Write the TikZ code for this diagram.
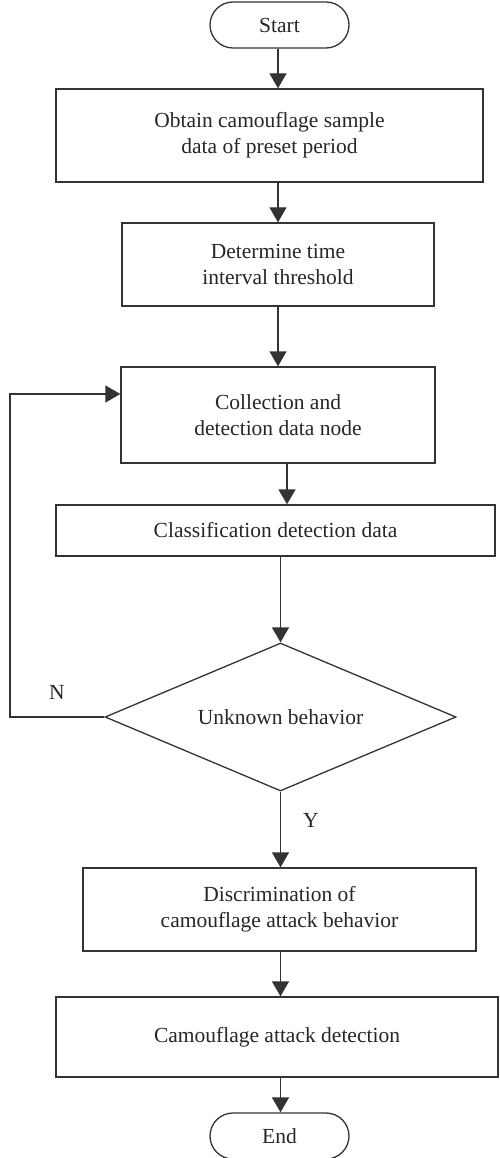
\documentclass[tikz,border=0pt]{standalone}
\usepackage{fontspec}
\setmainfont{Liberation Serif}
\usetikzlibrary{arrows.meta,shapes.geometric,shapes.misc}
\begin{document}
\begin{tikzpicture}[x=1pt,y=1pt,
  every node/.style={font=\fontsize{21.5}{26}\selectfont, text=black!85},
  procbox/.style={draw=black!80, line width=1.3pt, rectangle, align=center, inner sep=0pt},
  termbox/.style={draw=black!80, line width=1.3pt, rounded rectangle, minimum width=139pt, minimum height=46pt, inner sep=0pt},
  decbox/.style={draw=black!80, line width=1.3pt, diamond, aspect=2.37, minimum width=351pt, minimum height=148pt, inner sep=0pt},
  arr/.style={draw=black!80, line width=1.3pt, -{Triangle[length=15pt,width=17pt]}},
  lbl/.style={inner sep=0pt}]
\useasboundingbox (0,0) rectangle (499,-1158);

\node[termbox] (start) at (279.5,-25) {Start};
\node[procbox, minimum width=427pt, minimum height=93pt] (b1) at (269.5,-135.5)
  {Obtain camouflage sample\\data of preset period};
\node[procbox, minimum width=312pt, minimum height=83pt] (b2) at (278,-264.5)
  {Determine time\\interval threshold};
\node[procbox, minimum width=314pt, minimum height=96pt] (b3) at (278,-415)
  {Collection and\\detection data node};
\node[procbox, minimum width=439pt, minimum height=51pt] (b4) at (275.5,-530.5)
  {Classification detection data};
\node[decbox] (dec) at (280.5,-717) {Unknown behavior};
\node[procbox, minimum width=393pt, minimum height=83pt] (b5) at (279.5,-909.5)
  {Discrimination of\\camouflage attack behavior};
\node[procbox, minimum width=442pt, minimum height=80pt] (b6) at (277,-1037)
  {Camouflage attack detection};
\node[termbox] (end) at (279.5,-1136) {End};

\node[lbl] (nlab) at (57,-692) {N};
\node[lbl] (ylab) at (311,-820) {Y};

\coordinate (loopx) at (10,0);

\draw[arr] (start.south -| 278,0) -- (b1.north -| 278,0);
\draw[arr] (b1.south -| 278,0) -- (b2.north -| 278,0);
\draw[arr] (b2.south) -- (b3.north);
\draw[arr] ([xshift=9pt]b3.south) -- ([xshift=9pt]b3.south |- b4.north);
\draw[arr] (b4.south -| dec.north) -- (dec.north);
\draw[arr] (dec.south) -- (dec.south |- b5.north);
\draw[arr] (b5.south -| dec.south) -- (b6.north -| dec.south);
\draw[arr] (b6.south -| dec.south) -- (end.north -| dec.south);
\draw[arr] (dec.west) -- (dec.west -| loopx) |- ([yshift=21pt]b3.west);
\end{tikzpicture}
\end{document}
